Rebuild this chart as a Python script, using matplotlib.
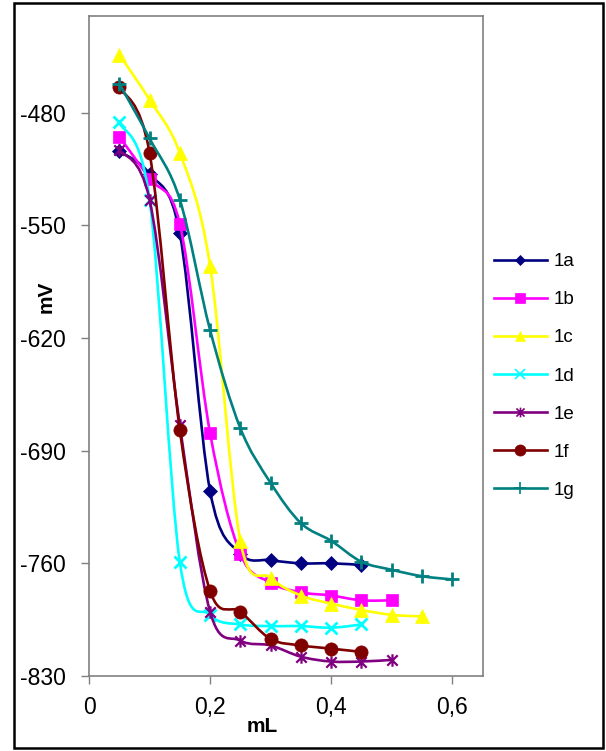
import matplotlib
matplotlib.use("Agg")
import matplotlib.pyplot as plt
from matplotlib.path import Path
from matplotlib.patches import PathPatch, Rectangle
from matplotlib.lines import Line2D

plt.rcParams['font.family'] = ['Liberation Sans', 'DejaVu Sans']
plt.rcParams['axes.unicode_minus'] = False

# ---- data ----
x_all = [0.05, 0.10, 0.15, 0.20, 0.25, 0.30, 0.35, 0.40, 0.45, 0.50, 0.55, 0.60]
names = ["1a", "1b", "1c", "1d", "1e", "1f", "1g"]
s1a = [-504, -518, -555, -715, -754, -758, -760, -760, -761]
s1b = [-495, -521, -549, -679, -754, -772, -778, -780, -783, -783]
s1c = [-444, -472, -505, -575, -746, -769, -780, -785, -789, -792, -793]
s1d = [-486, -534, -759, -792, -798, -799, -799, -800, -798]
s1e = [-503, -534, -674, -790, -808, -811, -818, -821, -821, -820]
s1f = [-464, -505, -677, -777, -790, -807, -811, -813, -815]
s1g = [-462, -496, -534, -615, -676, -710, -735, -746, -759, -764, -768, -770]
series = [s1a, s1b, s1c, s1d, s1e, s1f, s1g]

y_ticks = [-830, -760, -690, -620, -550, -480]
x_ticks = [0, 0.2, 0.4, 0.6]
x_tick_labels = ["0", "0,2", "0,4", "0,6"]

colors = ["#000080", "#FF00FF", "#FFFF00", "#00FFFF", "#800080", "#800000", "#008080"]

star = Path([(-1, -1), (1, 1), (-1, 1), (1, -1), (0, -1.2), (0, 1.2)],
            [Path.MOVETO, Path.LINETO, Path.MOVETO, Path.LINETO, Path.MOVETO, Path.LINETO])

styles = [
    dict(marker="D", ms=7, mew=0.5),
    dict(marker="s", ms=9, mew=0.5),
    dict(marker="^", ms=10, mew=0.5),
    dict(marker="x", ms=8.5, mew=2),
    dict(marker=star, ms=9, mew=1.6),
    dict(marker="o", ms=9.5, mew=0.5),
    dict(marker="+", ms=10, mew=2),
]
legend_ms = [5, 7.5, 6.5, 7, 7, 8, 8]


def smooth_path(xs, ys):
    pts = list(zip(xs, ys))
    n = len(pts)
    verts = [pts[0]]
    codes = [Path.MOVETO]
    for i in range(n - 1):
        p0 = pts[i - 1] if i > 0 else pts[i]
        p1 = pts[i]
        p2 = pts[i + 1]
        p3 = pts[i + 2] if i + 2 < n else pts[i + 1]
        c1 = (p1[0] + (p2[0] - p0[0]) / 6.0, p1[1] + (p2[1] - p0[1]) / 6.0)
        c2 = (p2[0] - (p3[0] - p1[0]) / 6.0, p2[1] - (p3[1] - p1[1]) / 6.0)
        verts += [c1, c2, p2]
        codes += [Path.CURVE4] * 3
    return Path(verts, codes)


W, H = 606, 751
fig = plt.figure(figsize=(W / 100, H / 100), dpi=100)
ax = fig.add_axes([89 / W, 1 - 676 / H, (483 - 89) / W, (676 - 16) / H])

handles = []
for k, (name, ys, c, st) in enumerate(zip(names, series, colors, styles)):
    xs = x_all[:len(ys)]
    patch = PathPatch(smooth_path(xs, ys), fill=False, edgecolor=c, lw=1.9, zorder=2 + 2 * k)
    ax.add_patch(patch)
    ax.plot(xs, ys, linestyle="none", marker=st["marker"], ms=st["ms"], mew=st["mew"],
            color=c, mfc=c, mec=c, zorder=3 + 2 * k)
    handles.append(Line2D([0], [0], color=c, lw=1.9, marker=st["marker"], ms=legend_ms[k],
                          mew=min(st["mew"], 1.2), mfc=c, mec=c))

ax.set_xlim(0, 0.651)
ax.set_ylim(-830, -420)
ax.set_yticks(y_ticks)
ax.set_xticks(x_ticks)
ax.set_xticklabels(x_tick_labels)
ax.tick_params(axis="both", direction="out", length=6, width=1, color="#808080",
               labelsize=16.5)
ax.tick_params(axis="y", pad=10.5)
ax.tick_params(axis="x", pad=8.5)
for sp in ax.spines.values():
    sp.set_color("#808080")
    sp.set_linewidth(1.2)

fig.text(262 / W, 1 - 727 / H, "mL", fontsize=15, fontweight="bold",
         ha="center", va="center")
fig.text(46 / W, 1 - 297 / H, "mV", fontsize=15, fontweight="bold",
         ha="center", va="center", rotation=90)

fig.legend(handles=handles, labels=names, loc="center left",
           bbox_to_anchor=(494 / W, 1 - 376 / H), frameon=False,
           fontsize=13.5, handlelength=2.8, handletextpad=0.4, labelspacing=1.12,
           borderpad=0, borderaxespad=0)

fig.patches.append(Rectangle((14 / W, 3 / H), (603 - 14) / W, (748 - 3) / H,
                             transform=fig.transFigure, fill=False, edgecolor="black",
                             lw=1.8, zorder=10))

fig.savefig("out.png", dpi=100)
